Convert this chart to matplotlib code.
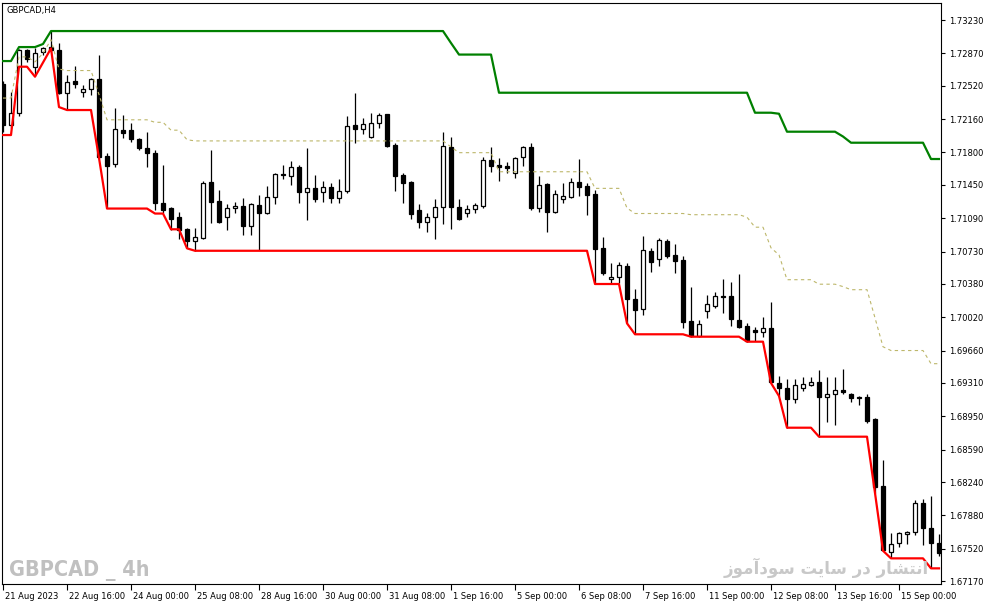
import numpy as np
import matplotlib.pyplot as plt
from matplotlib.transforms import ScaledTranslation

# GBPCAD H4 candles, bar 0 = 21 Aug 2023 00:00
opens = [
    1.72539, 1.72096, 1.72226, 1.72906, 1.72722, 1.72884, 1.72938, 1.72906, 1.72442, 1.72571,
    1.72452, 1.72485, 1.72593, 1.71761, 1.71675, 1.72042, 1.72042, 1.71945, 1.71848, 1.71794,
    1.71254, 1.71200, 1.71102, 1.70973, 1.70843, 1.70876, 1.71480, 1.71275, 1.71102, 1.71200,
    1.71221, 1.71005, 1.71232, 1.71146, 1.71318, 1.71572, 1.71545, 1.71642, 1.71372, 1.71416,
    1.71372, 1.71426, 1.71308, 1.71383, 1.72096, 1.72053, 1.71966, 1.72118, 1.72215, 1.71880,
    1.71556, 1.71480, 1.71178, 1.71048, 1.71102, 1.71210, 1.71858, 1.71210, 1.71146, 1.71189,
    1.71221, 1.71718, 1.71664, 1.71653, 1.71578, 1.71750, 1.71858, 1.71200, 1.71459, 1.71156,
    1.71297, 1.71318, 1.71480, 1.71437, 1.71351, 1.70768, 1.70433, 1.70454, 1.70573, 1.70217,
    1.70109, 1.70735, 1.70649, 1.70843, 1.70692, 1.70638, 1.69979, 1.69817, 1.70087, 1.70141,
    1.70249, 1.70249, 1.69990, 1.69925, 1.69882, 1.69860, 1.69904, 1.69310, 1.69256, 1.69137,
    1.69256, 1.69288, 1.69320, 1.69158, 1.69191, 1.69234, 1.69191, 1.69164, 1.69158, 1.68921,
    1.68197, 1.67484, 1.67582, 1.67679, 1.67700, 1.68014, 1.67744, 1.67582]
highs = [
    1.72571, 1.72452, 1.72917, 1.72917, 1.72928, 1.72938, 1.73111, 1.72982, 1.72636, 1.72733,
    1.72528, 1.72604, 1.72857, 1.71794, 1.72280, 1.72204, 1.72118, 1.71956, 1.72020, 1.71826,
    1.71664, 1.71210, 1.71156, 1.70984, 1.70984, 1.71491, 1.71826, 1.71394, 1.71243, 1.71264,
    1.71308, 1.71254, 1.71340, 1.71437, 1.71578, 1.71664, 1.71707, 1.71664, 1.71848, 1.71556,
    1.71491, 1.71470, 1.71513, 1.72193, 1.72445, 1.72172, 1.72229, 1.72229, 1.72218, 1.71902,
    1.71578, 1.71491, 1.71243, 1.71146, 1.71297, 1.72024, 1.71972, 1.71297, 1.71232, 1.71254,
    1.71750, 1.71858, 1.71740, 1.71696, 1.71750, 1.71869, 1.71905, 1.71545, 1.71470, 1.71394,
    1.71470, 1.71524, 1.71729, 1.71470, 1.71394, 1.70886, 1.70606, 1.70616, 1.70606, 1.70325,
    1.70897, 1.70768, 1.70876, 1.70865, 1.70811, 1.70681, 1.70346, 1.69990, 1.70260, 1.70292,
    1.70433, 1.70400, 1.70487, 1.69958, 1.69914, 1.70022, 1.70184, 1.69385, 1.69353, 1.69353,
    1.69374, 1.69374, 1.69450, 1.69374, 1.69374, 1.69461, 1.69202, 1.69169, 1.69191, 1.68932,
    1.68478, 1.67690, 1.67700, 1.67711, 1.68046, 1.68057, 1.68089, 1.67679]
lows = [
    1.72020, 1.72064, 1.72193, 1.72776, 1.72625, 1.72852, 1.72884, 1.72431, 1.72258, 1.72496,
    1.72398, 1.72420, 1.71740, 1.71200, 1.71642, 1.71956, 1.71912, 1.71826, 1.71642, 1.71178,
    1.71146, 1.70962, 1.70865, 1.70768, 1.70738, 1.70865, 1.71038, 1.71038, 1.70962, 1.71146,
    1.70908, 1.70908, 1.70746, 1.71135, 1.71243, 1.71513, 1.71448, 1.71254, 1.71070, 1.71264,
    1.71264, 1.71254, 1.71254, 1.71362, 1.71902, 1.71999, 1.71956, 1.72064, 1.71858, 1.71383,
    1.71254, 1.71081, 1.70984, 1.70940, 1.70865, 1.71027, 1.70973, 1.71070, 1.71102, 1.71146,
    1.71200, 1.71588, 1.71491, 1.71578, 1.71524, 1.71653, 1.71178, 1.71156, 1.70940, 1.71146,
    1.71254, 1.71308, 1.71329, 1.71124, 1.70379, 1.70476, 1.70390, 1.70390, 1.69954, 1.69836,
    1.70044, 1.70508, 1.70573, 1.70660, 1.70498, 1.69904, 1.69810, 1.69810, 1.70012, 1.70120,
    1.70066, 1.69925, 1.69904, 1.69756, 1.69763, 1.69806, 1.69310, 1.69169, 1.68827, 1.69094,
    1.69223, 1.69277, 1.68730, 1.68888, 1.68856, 1.69191, 1.69104, 1.69072, 1.68878, 1.68122,
    1.67498, 1.67416, 1.67538, 1.67571, 1.67668, 1.67560, 1.67308, 1.67441]
closes = [
    1.72096, 1.72226, 1.72906, 1.72809, 1.72874, 1.72928, 1.72906, 1.72442, 1.72560, 1.72539,
    1.72485, 1.72593, 1.71750, 1.71653, 1.72053, 1.72010, 1.71945, 1.71848, 1.71794, 1.71254,
    1.71178, 1.71081, 1.70962, 1.70843, 1.70886, 1.71470, 1.71264, 1.71048, 1.71200, 1.71221,
    1.71005, 1.71243, 1.71146, 1.71318, 1.71567, 1.71561, 1.71642, 1.71372, 1.71416, 1.71297,
    1.71426, 1.71308, 1.71383, 1.72085, 1.72053, 1.72107, 1.72118, 1.72204, 1.71869, 1.71545,
    1.71470, 1.71135, 1.71048, 1.71102, 1.71210, 1.71869, 1.71210, 1.71081, 1.71189, 1.71232,
    1.71718, 1.71653, 1.71642, 1.71632, 1.71740, 1.71858, 1.71200, 1.71448, 1.71156, 1.71351,
    1.71329, 1.71480, 1.71426, 1.71340, 1.70757, 1.70498, 1.70454, 1.70584, 1.70217, 1.70098,
    1.70746, 1.70616, 1.70854, 1.70681, 1.70627, 1.69968, 1.69817, 1.69947, 1.70163, 1.70249,
    1.70238, 1.70001, 1.69914, 1.69763, 1.69860, 1.69904, 1.69320, 1.69256, 1.69137, 1.69288,
    1.69299, 1.69320, 1.69158, 1.69191, 1.69234, 1.69212, 1.69148, 1.69153, 1.68899, 1.68186,
    1.67506, 1.67571, 1.67690, 1.67700, 1.68014, 1.67744, 1.67582, 1.67474]

# channel indicator (upper / lower band)
upper_band = ([1.72787, 1.72787, 1.72938, 1.72938, 1.72938, 1.72971] + [1.73111] * 50
              + [1.72982] + [1.72857] * 5 + [1.72445] * 32 + [1.72229] * 3 + [1.72218]
              + [1.72024] * 7 + [1.71972] + [1.71905] * 10 + [1.71729] * 2)
lower_band = ([1.71988, 1.71988, 1.72726, 1.72726, 1.72618, 1.72771, 1.72924, 1.72290]
              + [1.72258] * 4 + [1.71740] + [1.71194] * 6 + [1.71140] * 2 + [1.70970] * 2
              + [1.70764] + [1.70738] * 50 + [1.70379] * 4 + [1.69954] + [1.69836] * 7
              + [1.69810] * 7 + [1.69756] * 3 + [1.69310, 1.69169] + [1.68827] * 4
              + [1.68730] * 7 + [1.68122, 1.67498] + [1.67416] * 5 + [1.67308] * 2)

xtick_labels = ['21 Aug 2023', '22 Aug 16:00', '24 Aug 00:00', '25 Aug 08:00', '28 Aug 16:00',
                '30 Aug 00:00', '31 Aug 08:00', '1 Sep 16:00', '5 Sep 00:00', '6 Sep 08:00',
                '7 Sep 16:00', '11 Sep 00:00', '12 Sep 08:00', '13 Sep 16:00', '15 Sep 00:00']
yticks = [1.73230, 1.72870, 1.72520, 1.72160, 1.71800, 1.71450, 1.71090, 1.70730, 1.70380,
          1.70020, 1.69660, 1.69310, 1.68950, 1.68590, 1.68240, 1.67880, 1.67520, 1.67170]

title = 'GBPCAD,H4'
mark_en = 'GBPCAD _ 4h'
mark_fa = 'انتشار در سایت سودآموز'


def shape_persian(txt):
    ## minimal arabic shaping: (isolated, final, initial, medial) presentation forms
    forms = {'ا': (0xFE8D, 0xFE8E, None, None), 'آ': (0xFE81, 0xFE82, None, None),
             'ن': (0xFEE5, 0xFEE6, 0xFEE7, 0xFEE8), 'ت': (0xFE95, 0xFE96, 0xFE97, 0xFE98),
             'ش': (0xFEB5, 0xFEB6, 0xFEB7, 0xFEB8), 'ر': (0xFEAD, 0xFEAE, None, None),
             'د': (0xFEA9, 0xFEAA, None, None), 'س': (0xFEB1, 0xFEB2, 0xFEB3, 0xFEB4),
             'ی': (0xFEEF, 0xFEF0, 0xFEF3, 0xFEF4), 'م': (0xFEE1, 0xFEE2, 0xFEE3, 0xFEE4),
             'و': (0xFEED, 0xFEEE, None, None), 'ز': (0xFEAF, 0xFEB0, None, None)}
    out = []
    for i, ch in enumerate(txt):
        if ch not in forms:
            out.append(ch)
            continue
        prev = txt[i-1] if i > 0 else ' '
        nxt = txt[i+1] if i < len(txt)-1 else ' '
        jp = prev in forms and forms[prev][2] is not None
        jn = forms[ch][2] is not None and nxt in forms
        if jp and jn:
            f = forms[ch][3]
        elif jp:
            f = forms[ch][1]
        elif jn:
            f = forms[ch][2]
        else:
            f = forms[ch][0]
        out.append(chr(f))
    return ''.join(out)[::-1]


o = np.array(opens); h = np.array(highs); l = np.array(lows); c = np.array(closes)
x = np.arange(len(o))
up = c >= o
bot = np.minimum(o, c)
hgt = np.abs(c - o)
upper = np.array(upper_band)
lower = np.array(lower_band)
middle = (upper + lower) / 2

W, H = 987, 605
fig = plt.figure(figsize=(W/100, H/100), dpi=100)
ax = fig.add_axes([2.5/W, (H-584)/H, 938.5/W, 581/H])

ax.vlines(x, l, h, color='black', lw=0.9, zorder=2)
ax.bar(x[up], hgt[up], bottom=bot[up], width=0.55, facecolor='white', edgecolor='black', lw=0.9, zorder=3)
ax.bar(x[~up], hgt[~up], bottom=bot[~up], width=0.55, facecolor='black', edgecolor='black', lw=0.9, zorder=3)

ax.plot(x, middle, color='#bdb76b', lw=0.8, ls=(0, (3, 3)), zorder=4)
ax.plot(x, upper, color='#008000', lw=1.6, zorder=5)
ax.plot(x, lower, color='#ff0000', lw=1.6, zorder=5)

ax.set_xlim(-0.0625, 117.25)
ax.set_ylim(1.67139, 1.73414)
ax.set_xticks(x[::8][:len(xtick_labels)])
ax.set_xticklabels(xtick_labels)
ax.yaxis.tick_right()
ax.set_yticks(yticks)
ax.set_yticklabels(['%.5f' % v for v in yticks])
ax.tick_params(axis='x', direction='out', length=4, width=0.8, pad=1.5, labelsize=6)
ax.tick_params(axis='y', direction='out', length=3, width=0.8, pad=3, labelsize=6)
off = ScaledTranslation(2/100, 0, fig.dpi_scale_trans)
for lab in ax.get_xticklabels():
    lab.set_horizontalalignment('left')
    lab.set_transform(lab.get_transform() + off)
for sp in ax.spines.values():
    sp.set_linewidth(0.8)

fig.text(7/W, 1 - 10/H, title, fontsize=6, va='center', ha='left')
fig.text(9/W, 1 - 576/H, mark_en, fontsize=15.5, weight='bold', color='#c0c0c0',
         family=['DejaVu Sans'], stretch='condensed', va='baseline', ha='left')
fig.text(826/W, 1 - 574/H, shape_persian(mark_fa), fontsize=12, weight='bold', color='#c8c8c8',
         family=['DejaVu Sans'], va='baseline', ha='center')

fig.savefig('out.png', dpi=100)
